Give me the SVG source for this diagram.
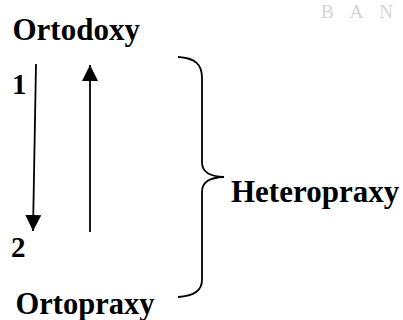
<svg xmlns="http://www.w3.org/2000/svg" width="403" height="320" viewBox="0 0 403 320">
<style>
.t{font-family:"Liberation Serif","Times New Roman",serif;font-weight:bold;fill:#000}
.ln{stroke:#000;stroke-width:1.8;fill:none}
.wm{font-family:"Liberation Serif","Times New Roman",serif;fill:#d4d4d4;font-size:19px}
</style>
<defs>
<marker id="ah" markerUnits="userSpaceOnUse" markerWidth="16" markerHeight="16" viewBox="0 0 16 16" refX="16" refY="8" orient="auto">
<path d="M0,0 L16,8 L0,16 Z" fill="#000"/>
</marker>
</defs>
<rect width="403" height="320" fill="#fff"/>
<text class="wm" x="321" y="18" textLength="72" lengthAdjust="spacing">B A N</text>
<g id="ortodoxy"><text class="t" x="12.5" y="39.5" font-size="31">Ortodoxy</text></g>
<g id="n1"><text class="t" x="12" y="93.5" font-size="29">1</text></g>
<g id="n2"><text class="t" x="11" y="256.5" font-size="29">2</text></g>
<g id="ortopraxy"><text class="t" x="15.5" y="313.5" font-size="30.5">Ortopraxy</text></g>
<g id="heteropraxy"><text class="t" x="231" y="202" font-size="31">Heteropraxy</text></g>
<g id="connectors">
<line class="ln" x1="36" y1="64" x2="33" y2="231" marker-end="url(#ah)"/>
<line class="ln" x1="90" y1="232" x2="90" y2="65" marker-end="url(#ah)"/>
<path class="ln" d="M178,57 C195,58 202,64 202,78 L202,162 C202,172 209,176.5 224,177 C209,177.5 202,182 202,192 L202,280 C202,290 195,296 178,297"/>
</g>
</svg>
